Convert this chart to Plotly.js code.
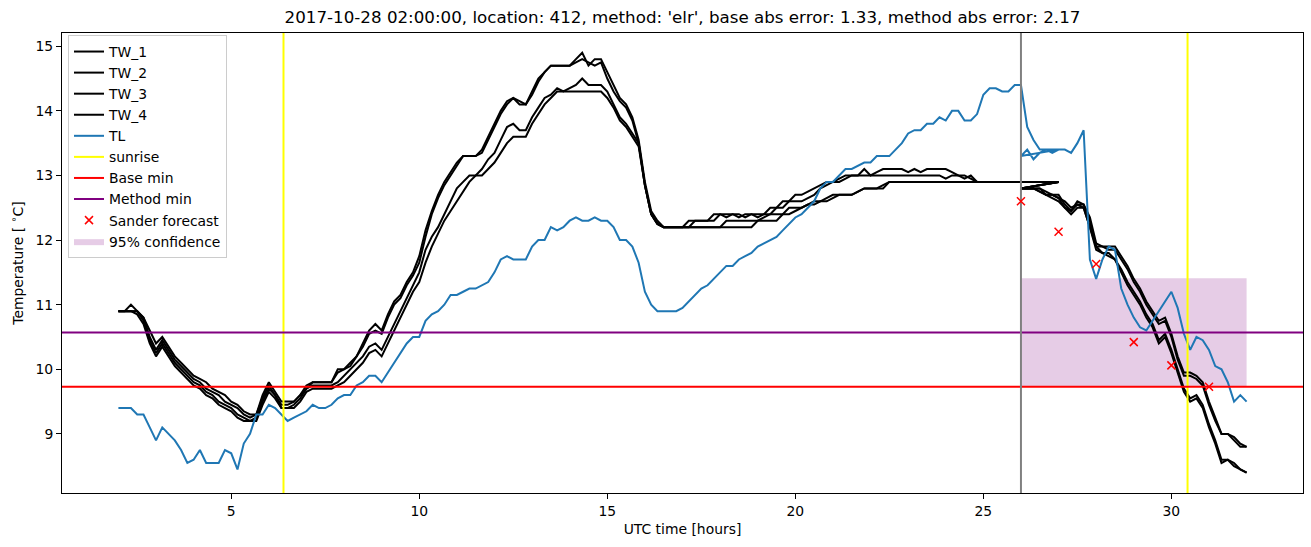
<!DOCTYPE html>
<html><head><meta charset="utf-8">
<script src="https://cdn.plot.ly/plotly-3.0.1.min.js"></script>
<style>html,body{margin:0;padding:0;background:#fff}</style>
</head><body><div id="chart" style="width:1311px;height:547px"></div>
<script>
const titleText = "2017-10-28 02:00:00, location: 412, method: 'elr', base abs error: 1.33, method abs error: 2.17";
const xTitle = "UTC time [hours]";
const yTitle = "Temperature [ <sup>∘</sup>C]";

// sampling (10-minute data)
const pastStart = 2, futureStart = 26, samplesPerHour = 6;

const tw1Past = [
 10.9,10.9,11.0,10.9,10.8,10.6,
 10.4,10.5,10.35,10.2,10.1,10.0,
 9.9,9.85,9.8,9.7,9.65,9.6,
 9.5,9.45,9.35,9.3,9.3,9.6,
 9.8,9.65,9.5,9.5,9.5,9.6,
 9.75,9.8,9.8,9.8,9.8,10.0,
 10.0,10.1,10.2,10.4,10.6,10.7,
 10.6,10.85,11.05,11.15,11.35,11.5,
 11.75,12.15,12.45,12.7,12.9,13.05,
 13.2,13.3,13.3,13.3,13.4,13.6,
 13.8,14.0,14.15,14.2,14.1,14.1,
 14.3,14.5,14.6,14.7,14.7,14.7,
 14.7,14.8,14.9,14.7,14.8,14.8,
 14.6,14.4,14.2,14.1,13.9,13.55,
 12.9,12.45,12.3,12.2,12.2,12.2,
 12.2,12.3,12.3,12.3,12.3,12.4,
 12.4,12.35,12.4,12.4,12.35,12.4,
 12.4,12.4,12.5,12.5,12.6,12.6,
 12.7,12.7,12.75,12.8,12.85,12.9,
 12.9,12.95,13.0,13.0,13.0,13.1,
 13.0,13.05,13.1,13.1,13.1,13.1,
 13.05,13.1,13.05,13.1,13.1,13.1,
 13.1,13.05,13.0,13.0,12.95,12.9,
 12.9,12.9,12.9,12.9,12.9,12.9,
 12.9,12.9,12.9,12.9,12.9,12.9,
 12.9];
const tw2Past = [
 10.9,10.9,10.9,10.9,10.8,10.5,
 10.3,10.45,10.3,10.15,10.05,9.95,
 9.85,9.8,9.7,9.65,9.6,9.5,
 9.45,9.4,9.3,9.25,9.3,9.55,
 9.75,9.6,9.45,9.45,9.5,9.6,
 9.7,9.8,9.8,9.8,9.8,9.95,
 10.0,10.05,10.2,10.35,10.55,10.6,
 10.55,10.8,11.0,11.1,11.3,11.45,
 11.65,12.05,12.4,12.65,12.85,13.0,
 13.15,13.3,13.3,13.3,13.35,13.55,
 13.75,13.95,14.1,14.2,14.15,14.1,
 14.25,14.45,14.6,14.7,14.7,14.7,
 14.7,14.75,14.8,14.75,14.7,14.75,
 14.5,14.3,14.15,14.05,13.85,13.5,
 12.85,12.4,12.25,12.2,12.2,12.2,
 12.2,12.2,12.3,12.3,12.3,12.3,
 12.4,12.4,12.4,12.35,12.4,12.4,
 12.35,12.4,12.4,12.5,12.5,12.6,
 12.6,12.6,12.65,12.7,12.8,12.85,
 12.9,12.9,12.95,13.0,13.0,13.0,
 13.0,13.0,13.0,13.0,13.0,13.0,
 13.0,13.0,13.0,13.0,13.0,13.0,
 12.95,13.0,13.0,12.95,13.0,12.9,
 12.9,12.9,12.9,12.9,12.9,12.9,
 12.9,12.9,12.9,12.9,12.9,12.9,
 12.9];
const tw3Past = [
 10.9,10.9,10.9,10.9,10.75,10.45,
 10.25,10.4,10.25,10.1,10.0,9.9,
 9.8,9.75,9.65,9.6,9.5,9.45,
 9.4,9.3,9.25,9.2,9.25,9.5,
 9.7,9.6,9.4,9.4,9.45,9.55,
 9.7,9.75,9.75,9.75,9.75,9.8,
 9.9,10.0,10.1,10.2,10.35,10.4,
 10.3,10.5,10.7,10.9,11.1,11.3,
 11.5,11.85,12.05,12.2,12.4,12.6,
 12.8,12.9,13.0,13.0,13.1,13.25,
 13.35,13.55,13.75,13.8,13.7,13.7,
 13.9,14.05,14.2,14.25,14.35,14.3,
 14.35,14.4,14.5,14.4,14.4,14.4,
 14.3,14.1,13.9,13.8,13.65,13.5,
 12.85,12.4,12.25,12.2,12.2,12.2,
 12.2,12.2,12.2,12.2,12.2,12.2,
 12.2,12.3,12.3,12.3,12.3,12.3,
 12.3,12.35,12.4,12.4,12.4,12.5,
 12.5,12.5,12.55,12.6,12.6,12.65,
 12.7,12.7,12.7,12.7,12.75,12.8,
 12.8,12.8,12.85,12.9,12.9,12.9,
 12.9,12.9,12.9,12.9,12.9,12.9,
 12.9,12.9,12.9,12.9,12.9,12.9,
 12.9,12.9,12.9,12.9,12.9,12.9,
 12.9,12.9,12.9,12.9,12.9,12.9,
 12.9];
const tw4Past = [
 10.9,10.9,10.9,10.85,10.7,10.4,
 10.2,10.35,10.2,10.05,9.95,9.85,
 9.75,9.7,9.6,9.55,9.45,9.4,
 9.35,9.25,9.2,9.2,9.2,9.45,
 9.65,9.55,9.4,9.4,9.4,9.5,
 9.65,9.7,9.7,9.7,9.7,9.75,
 9.8,9.9,10.0,10.1,10.25,10.3,
 10.2,10.4,10.6,10.8,11.0,11.2,
 11.35,11.65,11.9,12.1,12.3,12.45,
 12.6,12.75,12.9,13.0,13.0,13.1,
 13.2,13.35,13.5,13.6,13.6,13.6,
 13.8,13.95,14.1,14.2,14.3,14.3,
 14.3,14.3,14.3,14.3,14.3,14.3,
 14.2,14.05,13.85,13.75,13.6,13.45,
 12.85,12.4,12.25,12.2,12.2,12.2,
 12.2,12.2,12.2,12.2,12.2,12.2,
 12.2,12.2,12.2,12.2,12.2,12.2,
 12.3,12.3,12.3,12.3,12.4,12.4,
 12.45,12.5,12.55,12.55,12.6,12.6,
 12.65,12.7,12.7,12.7,12.75,12.8,
 12.8,12.8,12.8,12.9,12.9,12.9,
 12.9,12.9,12.9,12.9,12.9,12.9,
 12.9,12.9,12.9,12.9,12.9,12.9,
 12.9,12.9,12.9,12.9,12.9,12.9,
 12.9,12.9,12.9,12.9,12.9,12.9,
 12.9];
const tw1Future = [
 12.8,12.8,12.8,12.8,12.7,12.7,
 12.7,12.55,12.45,12.6,12.55,12.3,
 11.9,11.9,11.9,11.9,11.75,11.6,
 11.4,11.25,11.05,10.9,10.75,10.8,
 10.55,10.2,9.95,9.95,9.9,9.8,
 9.5,9.25,9.0,9.0,8.95,8.85,
 8.8];
const tw2Future = [
 12.8,12.8,12.8,12.75,12.7,12.7,
 12.65,12.6,12.5,12.55,12.55,12.35,
 11.95,11.9,11.85,11.85,11.7,11.55,
 11.35,11.2,11.0,10.85,10.7,10.75,
 10.5,10.15,9.9,9.9,9.85,9.75,
 9.45,9.2,9.0,9.0,8.9,8.8,
 8.8];
const tw3Future = [
 12.8,12.8,12.8,12.8,12.75,12.7,
 12.65,12.5,12.45,12.55,12.5,12.2,
 11.9,11.8,11.8,11.7,11.55,11.35,
 11.2,11.05,10.85,10.7,10.45,10.55,
 10.3,10.0,9.7,9.55,9.6,9.45,
 9.15,8.9,8.6,8.6,8.55,8.45,
 8.4];
const tw4Future = [
 12.8,12.8,12.8,12.75,12.7,12.65,
 12.6,12.5,12.4,12.5,12.5,12.2,
 11.85,11.8,11.75,11.7,11.5,11.3,
 11.15,11.0,10.8,10.65,10.4,10.5,
 10.25,9.95,9.65,9.5,9.55,9.4,
 9.1,8.85,8.55,8.6,8.5,8.45,
 8.4];
const tlPast = [
 9.4,9.4,9.4,9.3,9.3,9.1,
 8.9,9.1,9.0,8.9,8.75,8.55,
 8.6,8.75,8.55,8.55,8.55,8.75,
 8.7,8.45,8.85,9.0,9.3,9.3,
 9.45,9.4,9.3,9.2,9.25,9.3,
 9.35,9.45,9.4,9.4,9.45,9.55,
 9.6,9.6,9.75,9.8,9.9,9.9,
 9.8,9.95,10.1,10.25,10.4,10.5,
 10.5,10.75,10.85,10.9,11.0,11.15,
 11.15,11.2,11.25,11.25,11.3,11.35,
 11.5,11.7,11.75,11.7,11.7,11.7,
 11.9,12.0,12.0,12.2,12.15,12.2,
 12.3,12.35,12.3,12.3,12.35,12.3,
 12.3,12.2,12.0,12.0,11.9,11.65,
 11.2,11.0,10.9,10.9,10.9,10.9,
 10.95,11.05,11.15,11.25,11.3,11.4,
 11.5,11.6,11.6,11.7,11.75,11.8,
 11.9,11.95,12.0,12.05,12.15,12.25,
 12.35,12.4,12.5,12.6,12.8,12.9,
 12.9,13.0,13.1,13.1,13.15,13.2,
 13.2,13.3,13.3,13.3,13.4,13.5,
 13.65,13.7,13.7,13.8,13.8,13.9,
 13.85,14.0,14.0,13.85,13.85,13.95,
 14.25,14.35,14.35,14.3,14.3,14.4,
 14.4,13.75,13.55,13.4,13.4,13.4,
 13.4];
const tlFuture = [
 13.3,13.4,13.25,13.35,13.4,13.35,
 13.4,13.4,13.35,13.5,13.7,11.7,
 11.4,11.7,11.9,11.85,11.25,11.0,
 10.8,10.65,10.6,10.75,10.9,11.05,
 11.2,10.95,10.55,10.3,10.5,10.45,
 10.3,10.05,10.0,9.8,9.5,9.6,
 9.5];

const sunriseHours = [6.39, 30.43];
const forecastHour = 26;
const baseMin = 9.73;
const methodMin = 10.57;
const ciLow = 9.73, ciHigh = 11.41, ciStart = 26, ciEnd = 32;
const sanderHours = [26, 27, 28, 29, 30, 31];
const sanderTemps = [12.6, 12.13, 11.63, 10.42, 10.06, 9.73];

const xRange = [0.5, 33.5];
const yRange = [8.085, 15.205];
const xTicks = [5, 10, 15, 20, 25, 30];
const yTicks = [9, 10, 11, 12, 13, 14, 15];

function hoursFrom(start, n) {
  return Array.from({length: n}, (_, i) => start + i / samplesPerHour);
}
function joined(past, future) {
  return {
    x: hoursFrom(pastStart, past.length).concat(hoursFrom(futureStart, future.length)),
    y: past.concat(future)
  };
}

const FONT = "DejaVu Sans, Liberation Sans, sans-serif";
const traces = [];

// 95% confidence band (drawn behind, listed last)
traces.push({
  x: [ciStart, ciEnd, ciEnd, ciStart, ciStart],
  y: [ciLow, ciLow, ciHigh, ciHigh, ciLow],
  fill: 'toself', fillcolor: 'rgba(128,0,128,0.2)', line: {width: 0},
  mode: 'lines', name: '95% confidence', legendrank: 2000, hoverinfo: 'skip'
});

const tw = [[tw1Past, tw1Future], [tw2Past, tw2Future], [tw3Past, tw3Future], [tw4Past, tw4Future]];
tw.forEach((p, i) => {
  const d = joined(p[0], p[1]);
  traces.push({x: d.x, y: d.y, mode: 'lines', name: 'TW_' + (i + 1),
    line: {color: 'black', width: 2}});
});
const tl = joined(tlPast, tlFuture);
traces.push({x: tl.x, y: tl.y, mode: 'lines', name: 'TL', line: {color: '#1f77b4', width: 2}});

traces.push({
  x: [sunriseHours[0], sunriseHours[0], null, sunriseHours[1], sunriseHours[1]],
  y: [yRange[0], yRange[1], null, yRange[0], yRange[1]],
  mode: 'lines', name: 'sunrise', line: {color: '#ffff00', width: 2}
});
traces.push({x: xRange, y: [baseMin, baseMin], mode: 'lines', name: 'Base min', line: {color: '#ff0000', width: 2}});
traces.push({x: xRange, y: [methodMin, methodMin], mode: 'lines', name: 'Method min', line: {color: '#800080', width: 2}});
traces.push({x: [forecastHour, forecastHour], y: yRange, mode: 'lines', showlegend: false,
  line: {color: '#808080', width: 2}});
traces.push({x: sanderHours, y: sanderTemps, mode: 'markers', name: 'Sander forecast',
  marker: {symbol: 'x-thin', size: 8, color: '#ff0000', line: {color: '#ff0000', width: 1.5}}});

const axisCommon = {
  showgrid: false, zeroline: false, showline: true, mirror: true,
  linecolor: 'black', linewidth: 1, ticks: 'outside', ticklen: 5, tickwidth: 1,
  tickcolor: 'black', tickfont: {family: FONT, size: 13.9, color: 'black'}
};

const layout = {
  width: 1311, height: 547,
  paper_bgcolor: 'white', plot_bgcolor: 'white',
  margin: {l: 62, r: 8, t: 33, b: 54},
  font: {family: FONT, size: 13.9, color: 'black'},
  title: {text: titleText, font: {family: FONT, size: 16.7, color: 'black'},
    x: 0.5, xref: 'paper', xanchor: 'center', y: 1 - 17 / 547, yref: 'container', yanchor: 'middle'},
  xaxis: Object.assign({}, axisCommon, {range: xRange, tickvals: xTicks, ticktext: xTicks.map(String),
    title: {text: xTitle, font: {family: FONT, size: 13.9, color: 'black'}, standoff: 6}}),
  yaxis: Object.assign({}, axisCommon, {range: yRange, tickvals: yTicks, ticktext: yTicks.map(String),
    title: {text: yTitle, font: {family: FONT, size: 13.9, color: 'black'}, standoff: 8}}),
  showlegend: true,
  legend: {x: 6 / 1241, y: 1 - 2 / 460, xanchor: 'left', yanchor: 'top',
    bgcolor: 'white', bordercolor: '#cccccc', borderwidth: 1,
    font: {family: FONT, size: 13.9, color: 'black'}, tracegroupgap: 0}
};

Plotly.newPlot('chart', traces, layout, {displayModeBar: false, staticPlot: true});
</script>
</body></html>
